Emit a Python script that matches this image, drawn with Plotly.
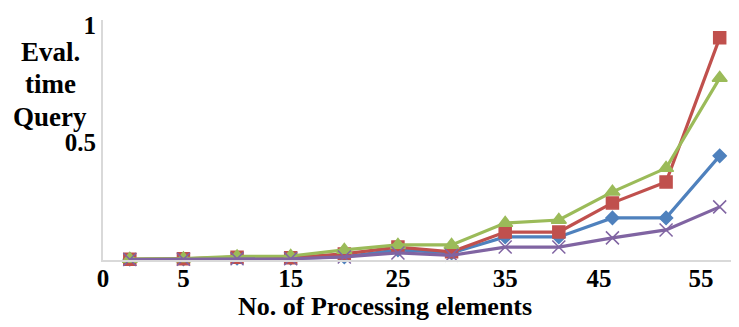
import plotly.graph_objects as go

categories = [1, 5, 10, 15, 20, 25, 30, 35, 40, 45, 50, 55]
series_blue = [0.003, 0.004, 0.008, 0.008, 0.013, 0.043, 0.030, 0.098, 0.098, 0.179, 0.179, 0.443]
series_red = [0.003, 0.005, 0.012, 0.010, 0.026, 0.055, 0.035, 0.119, 0.119, 0.243, 0.332, 0.945]
series_green = [0.004, 0.006, 0.015, 0.017, 0.043, 0.064, 0.064, 0.157, 0.170, 0.290, 0.391, 0.774]
series_purple = [0.002, 0.003, 0.005, 0.005, 0.013, 0.030, 0.020, 0.055, 0.055, 0.094, 0.128, 0.226]
xtick_labels = ["0", "5", "15", "25", "35", "45", "55"]
xtick_pos = [-0.5, 1, 3, 5, 7, 8.75, 10.65]
ytick_vals = [0.5, 1]
ytick_labels = ["0.5", "1"]
ytitle_lines = ["Eval.", "time", "Query"]
ytitle_ypos = [0.867, 0.733, 0.596]

xpos = list(range(len(categories)))
font = dict(family="Liberation Serif", size=26, color="black")
tfont = dict(family="Liberation Serif", size=25, color="black")

fig = go.Figure()
specs = [
    (series_blue, "#4F81BD", "diamond", 10),
    (series_red, "#C0504D", "square", 12),
    (series_green, "#9BBB59", "triangle-up", 13),
    (series_purple, "#8064A2", "x-thin", 13),
]
for vals, col, sym, sz in specs:
    fig.add_trace(go.Scatter(
        x=xpos, y=vals, mode="lines+markers",
        line=dict(color=col, width=3.2),
        marker=dict(symbol=sym, size=sz, color=col, line=dict(color=col, width=1.5)),
        cliponaxis=False, showlegend=False,
    ))

fig.update_layout(
    width=731, height=319,
    margin=dict(l=95, r=0, t=12, b=67),
    paper_bgcolor="white", plot_bgcolor="white",
    font=font,
    xaxis=dict(range=[-0.5, 11.36], showgrid=False, zeroline=False, automargin=False,
               showline=True, linecolor="#d9d9d9", linewidth=2,
               tickmode="array", tickvals=xtick_pos, ticktext=["<b>%s</b>" % t for t in xtick_labels],
               ticks="", tickfont=tfont, ticklabelstandoff=-5),
    yaxis=dict(range=[0, 1.021], showgrid=False, zeroline=False, automargin=False,
               showline=True, linecolor="#d9d9d9", linewidth=2,
               tickmode="array", tickvals=ytick_vals, ticktext=["<b>%s</b>" % t for t in ytick_labels],
               ticks="", tickfont=tfont, ticklabelstandoff=0),
)
fig.add_annotation(text="<b>No. of Processing elements</b>", xref="paper", yref="paper",
                   x=0.443, y=-0.195, xanchor="center", yanchor="middle",
                   showarrow=False, font=font)
for line, yp in zip(ytitle_lines, ytitle_ypos):
    fig.add_annotation(text="<b>%s</b>" % line, xref="paper", yref="paper",
                       x=-0.083, y=yp, xanchor="center", yanchor="middle",
                       showarrow=False, font=dict(family="Liberation Serif", size=27, color="black"))
fig.write_html("out.html")
